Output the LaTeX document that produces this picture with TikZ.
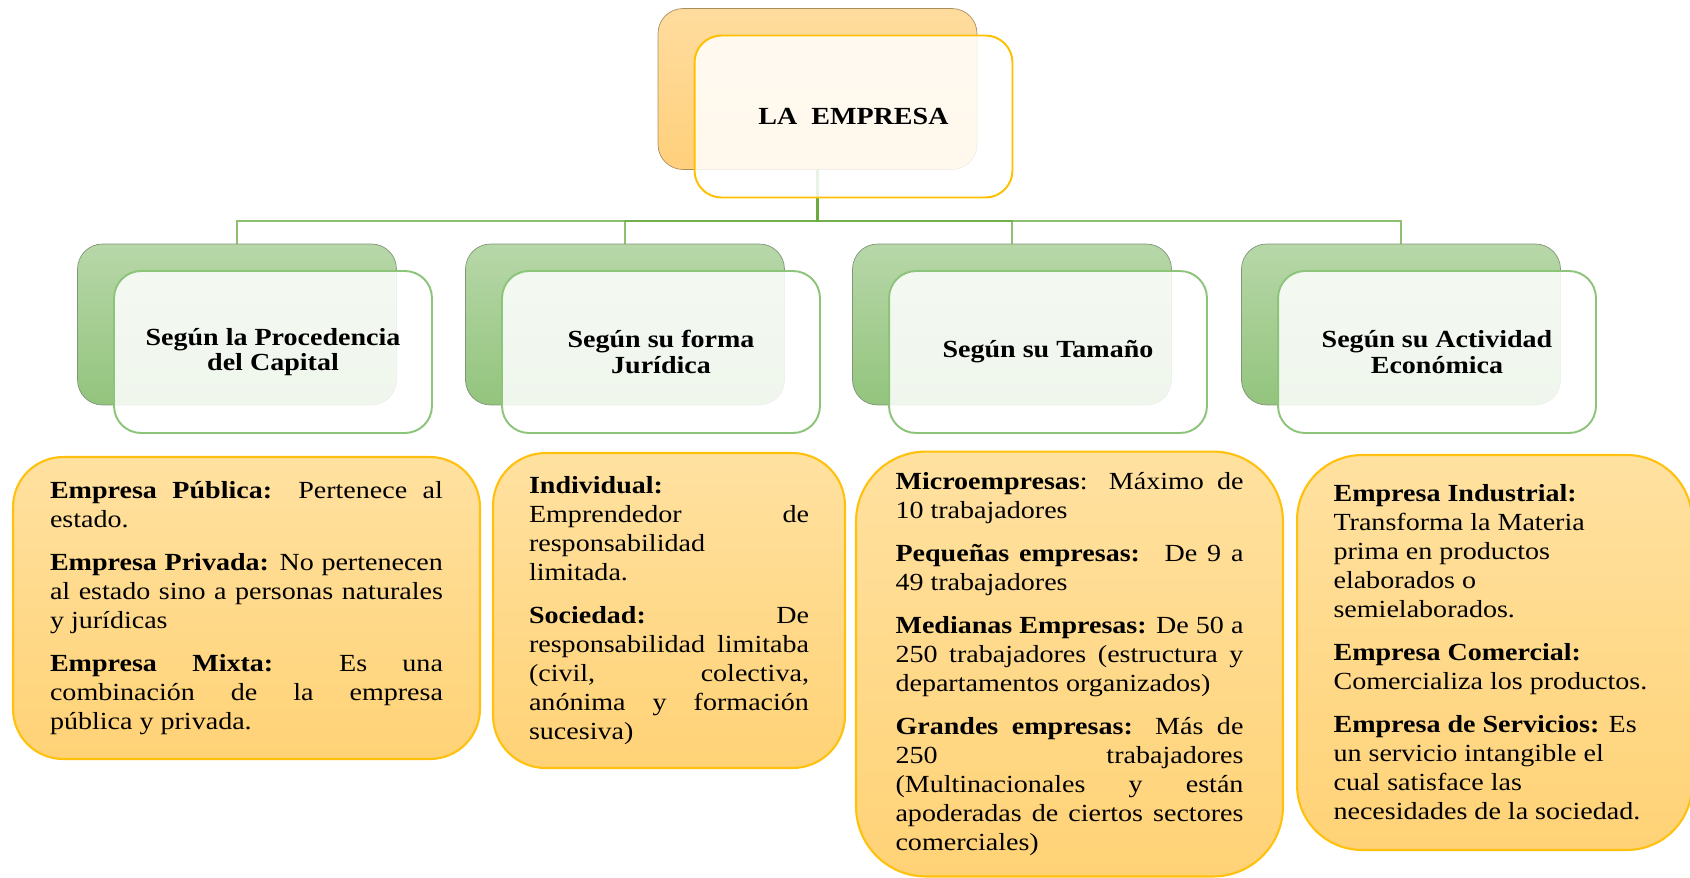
\documentclass[tikz,border=0pt]{standalone}
\usepackage{fontspec}
\setmainfont{Liberation Serif}[FakeStretch=1.14]
\definecolor{orTop}{HTML}{FFDC9E}
\definecolor{orBot}{HTML}{FFD07C}
\definecolor{orEdge}{HTML}{A8905E}
\definecolor{grTop}{HTML}{B7D7A8}
\definecolor{grBot}{HTML}{93C47D}
\definecolor{grEdge}{HTML}{80957A}
\definecolor{frGreen}{HTML}{8CC47A}
\definecolor{frGold}{HTML}{FFC000}
\definecolor{detTop}{HTML}{FFE1A0}
\definecolor{detBot}{HTML}{FFD276}
\definecolor{detEdge}{HTML}{FFC10E}
\definecolor{linkGreen}{HTML}{6AAA40}
\tolerance=10000
\hyphenpenalty=10000
\newcommand\paragap{\par\vspace{8pt}}
\tikzset{
    every node/.style={font=\fontsize{14}{16.5}\selectfont},
    back node/.style={inner sep=0pt,rounded corners=.5cm,minimum width=6.38cm,minimum height=3.22cm},
    back orange/.style={back node,draw=orEdge,top color=orTop,bottom color=orBot},
    back green/.style={back node,draw=grEdge,top color=grTop,bottom color=grBot},
    front node/.style={inner sep=0pt,rounded corners=.54cm,line width=1.1pt,fill=white,fill opacity=.86,text opacity=1,
        minimum width=6.36cm,minimum height=3.24cm,xshift=.72cm,yshift=-.55cm,align=center,
        font=\bfseries\fontsize{14}{14.5}\selectfont},
    detail node/.style={inner sep=0pt,line width=1.2pt,draw=detEdge,top color=detTop,bottom color=detBot,align=justify},
    link/.style={draw=linkGreen,draw opacity=.75,line width=1.5pt}
}

\begin{document}
\begin{tikzpicture}[x=0.02cm,y=-0.02cm]
    \useasboundingbox (0,0) rectangle (1690,877);

    % back boxes
    \node[back orange] (t) at (817.5,89) {};
    \node[back green] (c1) at (237,324.5) {};
    \node[back green] (c2) at (625,324.5) {};
    \node[back green] (c3) at (1012,324.5) {};
    \node[back green] (c4) at (1401,324.5) {};

    % connectors
    \coordinate (j) at (t.south |- 0,221);
    \draw[link] (t.south) -- (j) -| (c1.north);
    \draw[link] (t.south) -- (j) -| (c2.north);
    \draw[link] (t.south) -- (j) -| (c3.north);
    \draw[link] (t.south) -- (j) -| (c4.north);

    % front boxes
    \node[front node,draw=frGold] (tf) at (t) {LA~~EMPRESA};
    \node[front node,draw=frGreen] (f1) at (c1) {Según la Procedencia\\del Capital};
    \node[front node,draw=frGreen] (f2) at (c2) {Según su forma\\Jurídica};
    \node[front node,draw=frGreen] (f3) at (c3) {Según su Tamaño};
    \node[front node,draw=frGreen] (f4) at (c4) {Según su Actividad\\Económica};

    % details
    \node[detail node,rounded corners=1cm,minimum width=9.34cm,minimum height=6.04cm,text width=7.86cm] (d1) at (246.5,608) {
        \textbf{Empresa Pública:} Pertenece al\linebreak estado.\paragap
        \textbf{Empresa Privada:} No pertenecen\linebreak al estado sino a personas naturales\linebreak y jurídicas\paragap
        \textbf{Empresa Mixta:} Es una\linebreak combinación de la empresa\linebreak pública y privada.};
    \node[detail node,rounded corners=1.05cm,minimum width=7.04cm,minimum height=6.3cm,text width=5.6cm] (d2) at (669,610.5) {
        \textbf{Individual:}\linebreak Emprendedor de\linebreak responsabilidad\linebreak limitada.\paragap
        \textbf{Sociedad:} De\linebreak responsabilidad limitaba\linebreak (civil, colectiva,\linebreak anónima y formación\linebreak sucesiva)};
    \node[detail node,rounded corners=1.4cm,minimum width=8.54cm,minimum height=8.5cm,text width=6.96cm] (d3) at (1069.5,664) {
        \textbf{Microempresas}: Máximo de\linebreak 10 trabajadores\paragap
        \textbf{Pequeñas empresas:}~ De 9 a\linebreak 49 trabajadores\paragap
        \textbf{Medianas Empresas:} De 50 a\linebreak 250 trabajadores (estructura y\linebreak departamentos organizados)\paragap
        \textbf{Grandes empresas:} Más de\linebreak 250 trabajadores\linebreak (Multinacionales y están\linebreak apoderadas de ciertos sectores\linebreak comerciales)};
    \node[detail node,rounded corners=1.3cm,minimum width=7.9cm,minimum height=7.9cm,text width=6.44cm] (d4) at (1494.5,652.5) {
        \textbf{Empresa Industrial:}\newline Transforma la Materia\newline prima en productos\newline elaborados o\newline semielaborados.\paragap
        \textbf{Empresa Comercial:}\newline Comercializa los productos.\paragap
        \textbf{Empresa de Servicios:} Es\newline un servicio intangible el\newline cual satisface las\newline necesidades de la sociedad.};
\end{tikzpicture}
\end{document}
